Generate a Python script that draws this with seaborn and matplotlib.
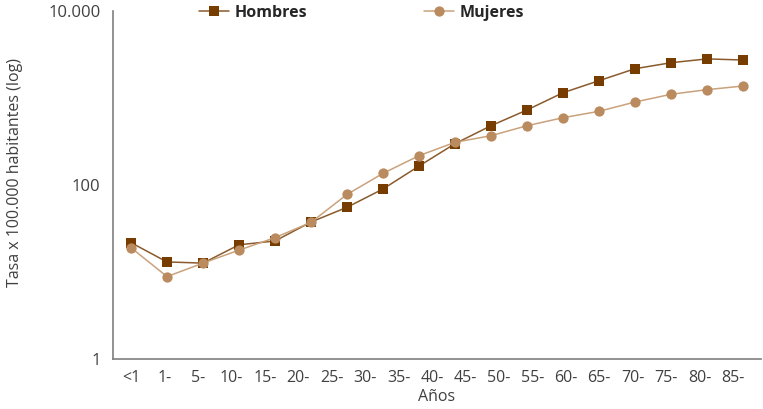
import numpy as np
import pandas as pd
import matplotlib
matplotlib.use("Agg")
import matplotlib.pyplot as plt
from matplotlib.ticker import NullLocator, FixedLocator
import seaborn as sns

# Tasas por 100.000 habitantes según grupo de edad
hombres = [21.8, 13.1, 12.7, 20.6, 22.8, 37.6, 55.5, 90, 165, 298, 479, 726,
           1146, 1574, 2160, 2531, 2800, 2718]
mujeres = [19.1, 8.9, 12.7, 17.9, 24.9, 37.3, 78, 136, 217, 309, 368, 479,
           592, 701, 896, 1099, 1242, 1368]
etiquetas = ["<1", "1-", "5-", "10-", "15-", "20-", "25-", "30-", "35-", "40-",
             "45-", "50-", "55-", "60-", "65-", "70-", "75-", "80-", "85-"]
series = ["Hombres", "Mujeres"]
yticks = [1, 100, 10000]
ytick_labels = ["1", "100", "10.000"]

sns.set_style("white")
plt.rcParams["font.family"] = ["Open Sans", "DejaVu Sans"]

df = pd.DataFrame({
    "pos": list(range(len(hombres))) * 2,
    "tasa": hombres + mujeres,
    "sexo": [series[0]] * len(hombres) + [series[1]] * len(mujeres),
})

fig = plt.figure(figsize=(7.63, 4.09), dpi=100)
ax = fig.add_axes([0.1481, 0.1215, 0.8493, 0.8523])

estilos = {
    "Hombres": dict(color="#8a5a2c", marker="s", markersize=7.9,
                    markerfacecolor="#773d00"),
    "Mujeres": dict(color="#c9a27c", marker="o", markersize=7.4,
                    markerfacecolor="#b98b5e"),
}
for nombre in series:
    sub = df[df["sexo"] == nombre]
    sns.lineplot(data=sub, x="pos", y="tasa", ax=ax, label=nombre,
                 linewidth=1.1, markeredgewidth=0, **estilos[nombre])

ax.set_yscale("log")
ax.set_ylim(1, 10000)
ax.yaxis.set_major_locator(FixedLocator(yticks))
ax.set_yticklabels(ytick_labels)
ax.yaxis.set_minor_locator(NullLocator())

n = len(hombres)
ax.set_xlim(-0.5, n - 0.5)
ax.set_xticks(np.arange(-0.5, n, 1.0))
ax.set_xticklabels([])
paso = 16.72 / (len(etiquetas) - 1)
ax.set_xticks([j * paso for j in range(len(etiquetas))], minor=True)
ax.set_xticklabels(etiquetas, minor=True)

gris = "#7f7f7f"
for s in ["top", "right"]:
    ax.spines[s].set_visible(False)
for s in ["left", "bottom"]:
    ax.spines[s].set_color(gris)
    ax.spines[s].set_linewidth(1.2)
ax.tick_params(axis="both", which="major", direction="out", length=5,
               width=1.1, color=gris, labelsize=12, labelcolor="#404040")
ax.tick_params(axis="x", which="minor", length=0, labelsize=11.5,
               labelcolor="#404040", pad=8)
ax.tick_params(axis="y", pad=4)

ax.set_xlabel("Años", fontsize=11.5, color="#404040", labelpad=2)
ax.set_ylabel("Tasa x 100.000 habitantes (log)", fontsize=11.5,
              color="#404040")
ax.yaxis.set_label_coords(-0.139, 0.537)

leg = ax.legend(loc="center", bbox_to_anchor=(0.474, 0.968),
                bbox_transform=fig.transFigure, ncol=2, frameon=False,
                handlelength=1.9, columnspacing=7.3, handletextpad=0.35,
                prop={"weight": "bold", "size": 11.5})
for t in leg.get_texts():
    t.set_color("#262626")

fig.savefig("out.png", dpi=100)
